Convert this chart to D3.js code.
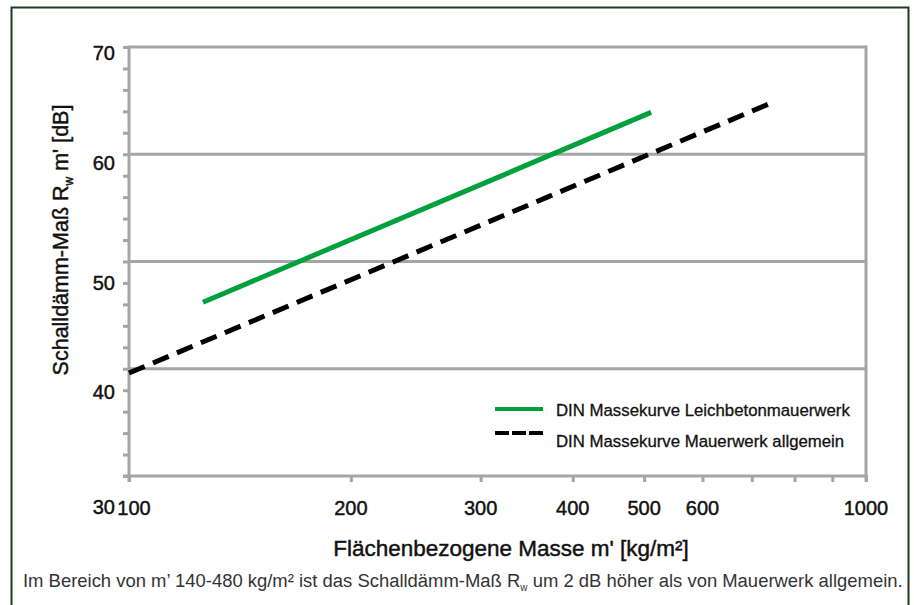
<!DOCTYPE html>
<html>
<head>
<meta charset="utf-8">
<script src="https://cdn.jsdelivr.net/npm/d3@7"></script>
<style>
  body { margin: 0; background: #fff; }
  svg { display: block; font-family: "Liberation Sans", Arial, sans-serif; }
  .medium { stroke: #111; stroke-width: 0.45px; }
</style>
</head>
<body>
<div id="chart"></div>
<script>
// data
const yValues = [30, 40, 50, 60, 70];
const yMinor = d3.range(30, 71, 2);
const xTickValues = [100, 200, 300, 400, 500, 600, 700, 800, 900, 1000];
const xLabelValues = [100, 200, 300, 400, 500, 600, 1000];
const leichtbetonMass = [126, 511];
const leichtbetonR = [46.2, 63.9];
const mauerwerkMass = [100, 739];
const mauerwerkR = [39.6, 64.7];
const seriesNames = ["DIN Massekurve Leichbetonmauerwerk", "DIN Massekurve Mauerwerk allgemein"];

const W = 914, H = 605;
const gray = "#a5a5a5";

const svg = d3.select("#chart").append("svg")
    .attr("width", W)
    .attr("height", H);

// outer frame
svg.append("rect")
    .attr("x", 11.5).attr("y", 7.5)
    .attr("width", 897).attr("height", 620)
    .attr("fill", "none")
    .attr("stroke", "#1d3a1d")
    .attr("stroke-width", 2);

const x = d3.scaleLog().domain([100, 1000]).range([129, 866]);
const y = d3.scaleLinear().domain([30, 70]).range([476, 47]);

// gridlines
svg.append("g")
    .selectAll("line")
    .data(yValues.slice(1))
    .join("line")
    .attr("x1", x(100)).attr("x2", x(1000))
    .attr("y1", d => y(d)).attr("y2", d => y(d))
    .attr("stroke", gray)
    .attr("stroke-width", 3);

// right border
svg.append("line")
    .attr("x1", x(1000)).attr("x2", x(1000))
    .attr("y1", y(70) - 1.5).attr("y2", y(30) + 6)
    .attr("stroke", gray).attr("stroke-width", 3);

// y axis
const yAxis = svg.append("g")
    .attr("transform", `translate(${x(100)},0)`)
    .call(d3.axisLeft(y).tickValues(yMinor).tickSize(6).tickFormat(""));
yAxis.select(".domain").attr("stroke", gray).attr("stroke-width", 3)
    .attr("d", `M0,${y(70) - 1.5}V${y(30) + 6}`);
yAxis.selectAll(".tick line").attr("stroke", gray).attr("stroke-width", 3);

// x axis
const xAxis = svg.append("g")
    .attr("transform", `translate(0,${y(30)})`)
    .call(d3.axisBottom(x).tickValues(xTickValues).tickSize(6).tickFormat(""));
xAxis.select(".domain").attr("stroke", gray).attr("stroke-width", 3)
    .attr("d", `M${x(100) - 6},0H${x(1000) + 1.5}`);
xAxis.selectAll(".tick line").attr("stroke", gray).attr("stroke-width", 3);

// y tick labels (they sit a bit below their gridlines in the original)
const yLabelShift = [31, 23, 21, 9, 6];
svg.append("g")
    .selectAll("text")
    .data(yValues)
    .join("text")
    .attr("class", "medium")
    .attr("x", 115)
    .attr("y", (d, i) => y(d) + yLabelShift[i])
    .attr("dy", "0.36em")
    .attr("text-anchor", "end")
    .attr("font-size", 20)
    .attr("fill", "#111")
    .text(d => d);

// x tick labels
svg.append("g")
    .selectAll("text")
    .data(xLabelValues)
    .join("text")
    .attr("class", "medium")
    .attr("x", d => x(d) + (d === 100 ? 5 : 0))
    .attr("y", 508)
    .attr("dy", "0.36em")
    .attr("text-anchor", "middle")
    .attr("font-size", 20)
    .attr("fill", "#111")
    .text(d => d);

// lines
const line = d3.line().x(d => x(d[0])).y(d => y(d[1]));

svg.append("path")
    .datum(d3.zip(leichtbetonMass, leichtbetonR))
    .attr("d", line)
    .attr("fill", "none")
    .attr("stroke", "#00a03c")
    .attr("stroke-width", 5);

svg.append("path")
    .datum(d3.zip(mauerwerkMass, mauerwerkR))
    .attr("d", line)
    .attr("fill", "none")
    .attr("stroke", "#000")
    .attr("stroke-width", 5)
    .attr("stroke-dasharray", "17 9");

// legend
const legend = svg.append("g");
legend.append("line")
    .attr("x1", 495).attr("x2", 543).attr("y1", 409).attr("y2", 409)
    .attr("stroke", "#00a03c").attr("stroke-width", 4);
legend.append("line")
    .attr("x1", 495).attr("x2", 543).attr("y1", 433).attr("y2", 433)
    .attr("stroke", "#000").attr("stroke-width", 4)
    .attr("stroke-dasharray", "14 3");
legend.selectAll("text")
    .data(seriesNames)
    .join("text")
    .attr("class", "medium")
    .attr("x", 556)
    .attr("y", (d, i) => 416 + i * 31)
    .attr("font-size", 16.8)
    .attr("fill", "#111")
    .style("stroke-width", "0.3px")
    .text(d => d);

// axis titles
const yTitle = svg.append("text")
    .attr("class", "medium")
    .attr("transform", "translate(68,240) rotate(-90)")
    .attr("text-anchor", "middle")
    .attr("font-size", 21.5)
    .attr("fill", "#111");
yTitle.append("tspan").text("Schalldämm-Maß R");
yTitle.append("tspan").attr("font-size", 12).attr("dy", 5).text("w");
yTitle.append("tspan").attr("dy", -5).text(" m' [dB]");

svg.append("text")
    .attr("class", "medium")
    .attr("x", 511).attr("y", 556)
    .attr("text-anchor", "middle")
    .attr("font-size", 22.5)
    .attr("fill", "#111")
    .text("Flächenbezogene Masse m' [kg/m²]");

// caption
const caption = svg.append("text")
    .attr("x", 23).attr("y", 587)
    .attr("font-size", 18.45)
    .attr("fill", "#333");
caption.append("tspan").text("Im Bereich von m’ 140-480 kg/m² ist das Schalldämm-Maß R");
caption.append("tspan").attr("font-size", 10).attr("dy", 4).text("w");
caption.append("tspan").attr("dy", -4).text(" um 2 dB höher als von Mauerwerk allgemein.");
</script>
</body>
</html>
